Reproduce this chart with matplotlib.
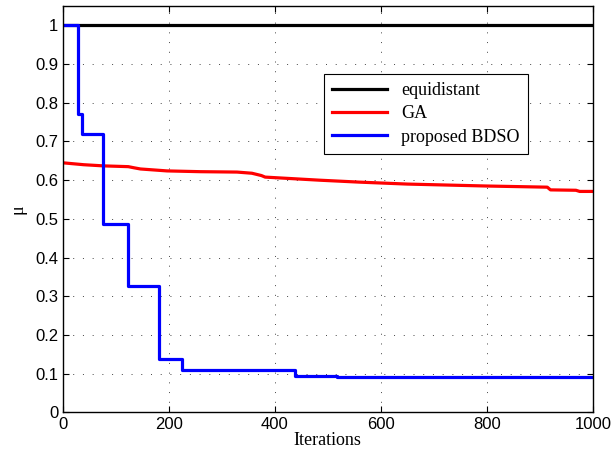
import numpy as np
import matplotlib.pyplot as plt

# iteration axis
iters_max = 1000

# equidistant baseline
equi_x = [0, 1000]
equi_y = [1.0, 1.0]

# GA curve
ga_x = [0, 40, 77, 124, 135, 147, 197, 260, 329, 357, 375, 382, 485, 560, 650, 799, 914, 920, 968, 975, 1000]
ga_y = [0.645, 0.640, 0.637, 0.635, 0.632, 0.629, 0.624, 0.622, 0.621, 0.618, 0.612, 0.608, 0.600, 0.595, 0.590, 0.585, 0.582, 0.575, 0.574, 0.571, 0.571]

# proposed BDSO step curve
bdso_x = [0, 29, 37, 76, 123, 182, 225, 438, 518, 1000]
bdso_y = [1.0, 0.772, 0.720, 0.486, 0.328, 0.139, 0.110, 0.094, 0.092, 0.092]

plt.rcParams['font.family'] = ['Liberation Sans', 'DejaVu Sans']

fig = plt.figure(figsize=(6.16, 4.57), dpi=100)
ax = fig.add_axes([0.1015, 0.0974, 0.861, 0.8895])

ax.plot(equi_x, equi_y, color='black', lw=2.3, label='equidistant')
ax.plot(ga_x, ga_y, color='red', lw=2.3, label='GA')
ax.plot(bdso_x, bdso_y, color='blue', lw=2.3, drawstyle='steps-post', label='proposed BDSO')

ax.set_xlim(0, iters_max)
ax.set_ylim(0, 1.05)
ax.set_xticks(np.arange(0, 1001, 200))
ax.set_yticks(np.arange(0, 1.01, 0.1))
ax.set_yticklabels(['0', '0.1', '0.2', '0.3', '0.4', '0.5', '0.6', '0.7', '0.8', '0.9', '1'])
ax.tick_params(direction='in', top=True, right=True, labelsize=12, length=4, pad=3)
ax.grid(True, color='#444444', linestyle=(0, (1, 9)), linewidth=0.7)
for s in ax.spines.values():
    s.set_linewidth(1.0)

ax.set_xlabel('Iterations', family='Liberation Serif', fontsize=13, labelpad=0)
ax.set_ylabel('μ', family='Liberation Serif', fontsize=13, labelpad=6)

leg = ax.legend(loc='upper right', bbox_to_anchor=(0.877, 0.833), prop={'family': 'Liberation Serif', 'size': 13},
                fancybox=False, framealpha=1, edgecolor='black', borderaxespad=0, handlelength=3.0,
                labelspacing=0.35, borderpad=0.45)
leg.get_frame().set_linewidth(0.8)

fig.savefig('out.png', dpi=100)
